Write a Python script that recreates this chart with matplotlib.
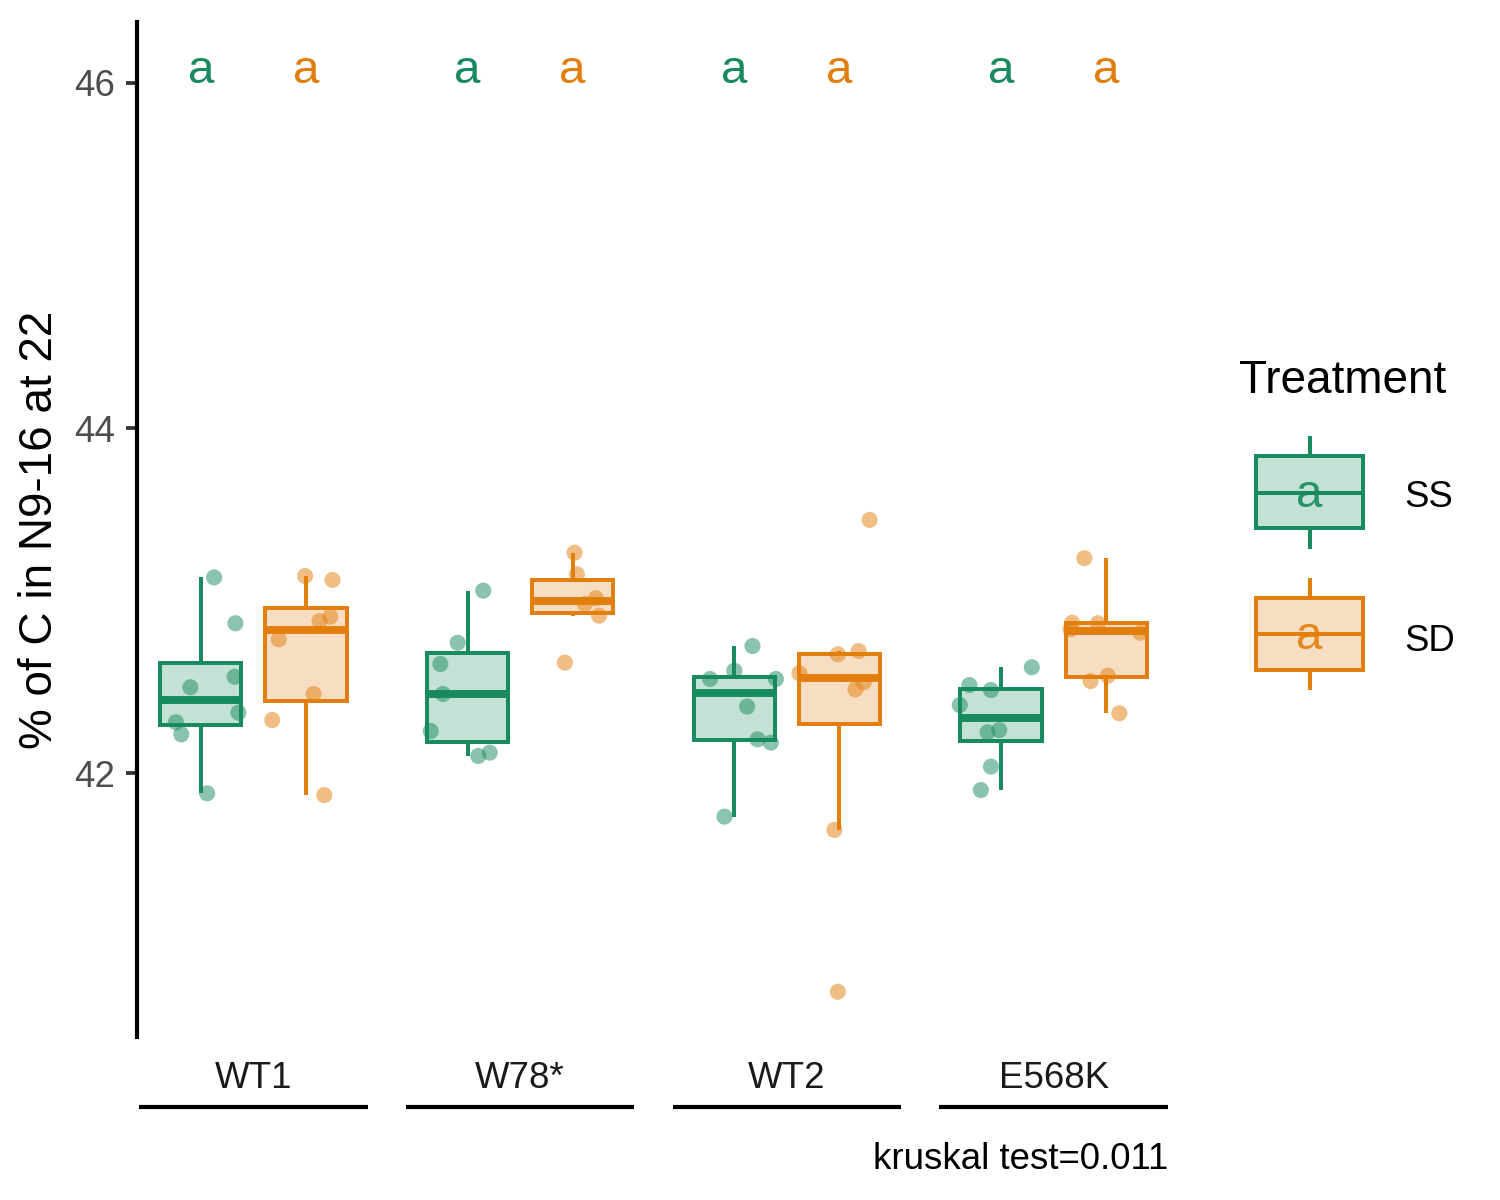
import matplotlib
matplotlib.use("Agg")
import matplotlib.pyplot as plt
import matplotlib.transforms as mtransforms
from matplotlib.colors import to_rgba
from matplotlib.patches import Rectangle
import numpy as np

plt.rcParams['font.family'] = ['Liberation Sans', 'DejaVu Sans']

# ---------------- data ----------------
groups = ["WT1", "W78*", "WT2", "E568K"]
treatments = ["SS", "SD"]
letters_ss = ["a", "a", "a", "a"]
letters_sd = ["a", "a", "a", "a"]

ss_wt1 = [43.134, 42.868, 42.558, 42.497, 42.350, 42.294, 42.224, 41.882]
sd_wt1 = [43.142, 43.119, 42.906, 42.881, 42.775, 42.458, 42.307, 41.872]
ss_w78 = [43.057, 42.755, 42.632, 42.458, 42.243, 42.118, 42.099]
sd_w78 = [43.277, 43.152, 43.013, 42.980, 42.912, 42.640]
ss_wt2 = [42.736, 42.593, 42.545, 42.545, 42.385, 42.195, 42.176, 41.747]
sd_wt2 = [43.467, 42.707, 42.688, 42.578, 42.526, 42.485, 41.670, 40.732]
ss_e568k = [42.613, 42.510, 42.481, 42.394, 42.249, 42.236, 42.037, 41.901]
sd_e568k = [43.245, 42.871, 42.868, 42.833, 42.813, 42.564, 42.533, 42.346]

# horizontal jitter of each point (in category units)
jit_ss_wt1 = [0.050, 0.130, 0.127, -0.039, 0.141, -0.093, -0.073, 0.024]
jit_sd_wt1 = [-0.003, 0.100, 0.091, 0.051, -0.102, 0.029, -0.126, 0.069]
jit_ss_w78 = [0.059, -0.037, -0.102, -0.092, -0.138, 0.083, 0.040]
jit_sd_w78 = [0.007, 0.016, 0.087, 0.046, 0.099, -0.029]
jit_ss_wt2 = [0.068, 0.000, -0.091, 0.156, 0.048, 0.087, 0.137, -0.037]
jit_sd_wt2 = [0.113, 0.072, -0.006, -0.150, 0.091, 0.060, -0.019, -0.006]
jit_ss_e568k = [0.115, -0.119, -0.038, -0.155, -0.007, -0.051, -0.038, -0.076]
jit_sd_e568k = [-0.082, -0.128, -0.031, -0.134, 0.128, 0.006, -0.059, 0.049]

kruskal_label = "kruskal test=0.011"
y_label = "% of C in N9-16 at 22"
legend_title = "Treatment"
letter_y = 46.0
y_ticks = [42, 44, 46]

ss_data = [ss_wt1, ss_w78, ss_wt2, ss_e568k]
sd_data = [sd_wt1, sd_w78, sd_wt2, sd_e568k]
ss_jit = [jit_ss_wt1, jit_ss_w78, jit_ss_wt2, jit_ss_e568k]
sd_jit = [jit_sd_wt1, jit_sd_w78, jit_sd_wt2, jit_sd_e568k]

# ---------------- style ----------------
col = {"SS": "#178A5E", "SD": "#E27F0C"}
dodge = {"SS": -0.197, "SD": 0.197}
box_w = 0.305
lw = 0.95

W_PX, H_PX = 1500, 1200
fig = plt.figure(figsize=(5, 4), dpi=300)
L, R, T, B = 137, 1170, 22, 1037
ax = fig.add_axes([L / W_PX, 1 - B / H_PX, (R - L) / W_PX, (B - T) / H_PX])

x = np.arange(1, len(groups) + 1)

for tr, data, jits, letters in [("SS", ss_data, ss_jit, letters_ss),
                                 ("SD", sd_data, sd_jit, letters_sd)]:
    c = col[tr]
    pos = x + dodge[tr]
    ax.boxplot(data, positions=pos, widths=box_w, patch_artist=True,
               showfliers=False, showcaps=False, whis=1.5, manage_ticks=False,
               boxprops=dict(facecolor=to_rgba(c, 0.25), edgecolor=c, linewidth=lw),
               whiskerprops=dict(color=c, linewidth=lw, solid_capstyle='butt'),
               medianprops=dict(color=c, linewidth=2 * lw, solid_capstyle='butt'),
               zorder=2)
    for p, vals, jj in zip(pos, data, jits):
        ax.scatter(p + np.array(jj), vals, s=15, color=c, alpha=0.5,
                   edgecolors='none', zorder=3)
    for p, lt in zip(pos, letters):
        ax.text(p, letter_y, lt, color=c, fontsize=11.4, ha='center', va='baseline')

ax.set_xlim(0.564, 4.436)
ax.set_ylim(40.4696, 46.3536)
ax.set_yticks(y_ticks)
ax.set_yticklabels([str(t) for t in y_ticks])
ax.set_xticks([])
for s in ['top', 'right', 'bottom']:
    ax.spines[s].set_visible(False)
ax.spines['left'].set_linewidth(1.0)
ax.spines['left'].set_color('black')
ax.tick_params(axis='y', length=2.6, width=0.9, pad=2.6, labelsize=8.8,
               labelcolor='#4D4D4D', color='#333333')
ax.patch.set_visible(False)

# group labels with underlines
trans = mtransforms.blended_transform_factory(ax.transData, ax.transAxes)
lab_y = (B - 1087.5) / (B - T)
line_y = (B - 1107) / (B - T)
for xi, g in zip(x, groups):
    ax.text(xi, lab_y, g, transform=trans, ha='center', va='baseline',
            fontsize=8.8, color='#1A1A1A', clip_on=False)
    ax.plot([xi - 0.428, xi + 0.428], [line_y, line_y], transform=trans,
            color='black', lw=1.0, clip_on=False, solid_capstyle='butt')

# y label and caption
fig.text(52 / W_PX, 1 - 530 / H_PX, y_label, rotation=90, rotation_mode='anchor',
         ha='center', va='baseline', fontsize=11, color='black')
fig.text(1168 / W_PX, 1 - 1169 / H_PX, kruskal_label, ha='right', va='baseline',
         fontsize=8.8, color='black')

# legend (drawn in pixel coordinates of an overlay axes)
la = fig.add_axes([0, 0, 1, 1])
la.set_xlim(0, W_PX)
la.set_ylim(H_PX, 0)
la.axis('off')
la.text(1239, 393, legend_title, fontsize=11, ha='left', va='baseline', color='black')
key_specs = [("SS", 456, 528, 493, 436, 549, 507, 507),
             ("SD", 598, 670, 634, 578, 690, 649, 651)]
for tr, top, bot, med, wt, wb, abase, lbase in key_specs:
    c = col[tr]
    la.add_patch(Rectangle((1256, top), 107, bot - top, facecolor=to_rgba(c, 0.25),
                           edgecolor=c, linewidth=lw))
    la.plot([1256, 1363], [med, med], color=c, lw=lw, solid_capstyle='butt')
    la.plot([1309.5, 1309.5], [wt, top], color=c, lw=lw, solid_capstyle='butt')
    la.plot([1309.5, 1309.5], [bot, wb], color=c, lw=lw, solid_capstyle='butt')
    la.text(1309, abase, "a", color=c, fontsize=11.4, ha='center', va='baseline', alpha=0.9)
    la.text(1404, lbase, tr, fontsize=8.8, ha='left', va='baseline', color='black')

fig.savefig("out.png", dpi=300)
